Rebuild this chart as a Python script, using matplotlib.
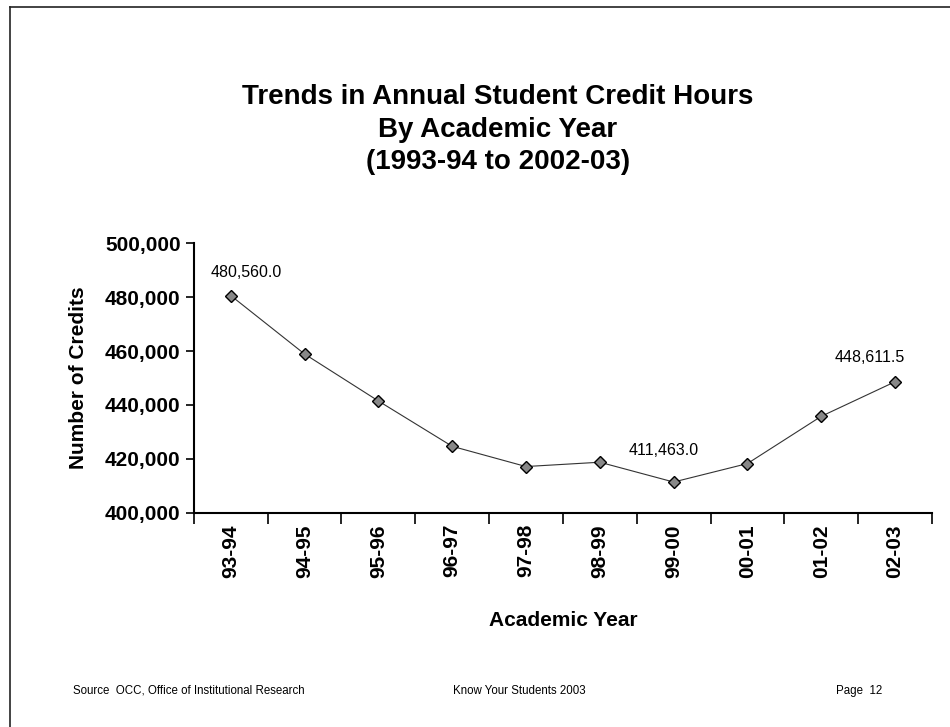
import matplotlib.pyplot as plt
from matplotlib.lines import Line2D
import numpy as np

years = ['93-94', '94-95', '95-96', '96-97', '97-98', '98-99', '99-00', '00-01', '01-02', '02-03']
credits = [480560.0, 458900, 441500, 424700, 417200, 418800, 411463.0, 418300, 435800, 448611.5]
labelled = {0: '480,560.0', 6: '411,463.0', 9: '448,611.5'}
label_offsets = {0: (11, 11), 6: (-7, 17), 9: (-18, 12)}

plt.rcParams['font.family'] = ['Liberation Sans', 'DejaVu Sans']

fig = plt.figure(figsize=(9.5, 7.27), dpi=100)
ax = fig.add_axes([0.204, 0.2944, 0.777, 0.3713])

x = np.arange(len(years))
ax.plot(x, credits, color='#333333', lw=0.8, marker='D', ms=6,
        markerfacecolor='#888888', markeredgecolor='black', markeredgewidth=1.0)

for i, txt in labelled.items():
    ax.annotate(txt, (x[i], credits[i]), xytext=label_offsets[i], textcoords='offset points',
                ha='center', va='bottom', fontsize=11.5)

ax.set_xlim(-0.5, len(years) - 0.5)
ax.set_ylim(400000, 500000)
ax.set_yticks(np.arange(400000, 500001, 20000))
ax.yaxis.set_major_formatter(plt.FuncFormatter(lambda v, p: f'{int(v):,}'))
ax.tick_params(axis='y', labelsize=15, length=6, width=1.2, direction='out')
for t in ax.get_yticklabels():
    t.set_fontweight('bold')

# category axis: ticks sit on the boundaries, labels in the middle
ax.set_xticks(np.arange(-0.5, len(years)), minor=False)
ax.set_xticklabels([])
ax.set_xticks(x, minor=True)
ax.set_xticklabels(years, minor=True, rotation=90, fontsize=15, fontweight='bold')
ax.tick_params(axis='x', which='major', length=8, width=1.2, direction='out')
ax.tick_params(axis='x', which='minor', length=0, pad=8)

for s in ['top', 'right']:
    ax.spines[s].set_visible(False)
ax.spines['left'].set_linewidth(1.5)
ax.spines['bottom'].set_linewidth(1.5)

ax.set_ylabel('Number of Credits', fontsize=15, fontweight='bold', labelpad=12)
ax.set_xlabel('Academic Year', fontsize=15, fontweight='bold', labelpad=24)

tx = 0.524
fig.text(tx, 0.866, 'Trends in Annual Student Credit Hours', ha='center', va='center',
         fontsize=20, fontweight='bold')
fig.text(tx, 0.821, 'By Academic Year', ha='center', va='center', fontsize=20, fontweight='bold')
fig.text(tx, 0.777, '(1993-94 to 2002-03)', ha='center', va='center', fontsize=20, fontweight='bold')

fig.text(0.077, 0.05, 'Source  OCC, Office of Institutional Research', fontsize=8.3, va='center')
fig.text(0.477, 0.05, 'Know Your Students 2003', fontsize=8.3, va='center')
fig.text(0.880, 0.05, 'Page  12', fontsize=8.3, va='center')

# page border (top and left edges of the scan)
fig.add_artist(Line2D([0.011, 1.0], [0.990, 0.990], color='#222222', lw=1.2, transform=fig.transFigure))
fig.add_artist(Line2D([0.011, 0.011], [0.0, 0.990], color='#222222', lw=1.2, transform=fig.transFigure))

fig.savefig('out.png', dpi=100)
